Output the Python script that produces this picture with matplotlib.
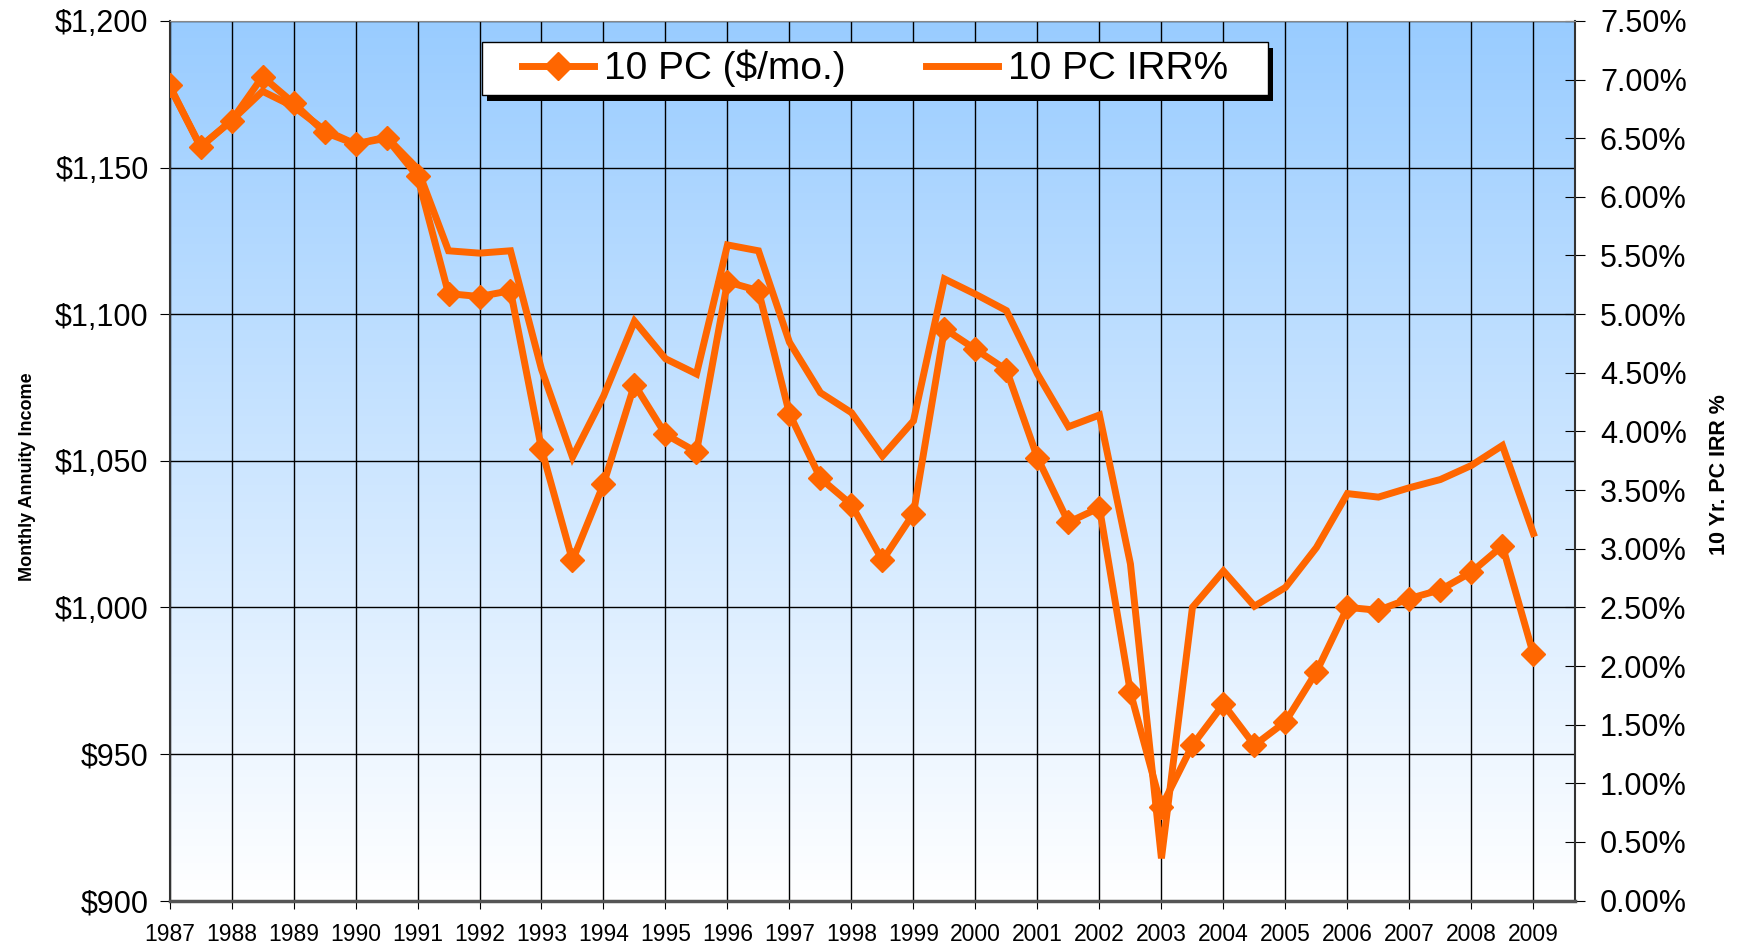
import numpy as np
import matplotlib
matplotlib.use('Agg')
import matplotlib.pyplot as plt
import matplotlib.patheffects as pe
from matplotlib.colors import LinearSegmentedColormap
from matplotlib.patches import Rectangle
from matplotlib.ticker import FuncFormatter

plt.rcParams['font.family'] = ['Liberation Sans', 'DejaVu Sans']

# semiannual observations, 1987.0 .. 2009.0
periods = np.arange(1987.0, 2009.01, 0.5)
monthly_income = [1178, 1157, 1166, 1181, 1172, 1162, 1158, 1160, 1147, 1107,
                  1106, 1108, 1054, 1016, 1042, 1076, 1059, 1053, 1111, 1108,
                  1066, 1044, 1035, 1016, 1032, 1095, 1088, 1081, 1051, 1029,
                  1034, 971, 932, 953, 967, 953, 961, 978, 1000, 999,
                  1003, 1006, 1012, 1021, 984]
irr_pct = [6.94, 6.43, 6.65, 6.90, 6.77, 6.57, 6.45, 6.51, 6.24, 5.54,
           5.52, 5.54, 4.53, 3.78, 4.30, 4.94, 4.62, 4.49, 5.59, 5.54,
           4.76, 4.33, 4.16, 3.79, 4.09, 5.30, 5.17, 5.03, 4.49, 4.04,
           4.14, 2.87, 0.36, 2.50, 2.81, 2.51, 2.67, 3.01, 3.47, 3.44,
           3.52, 3.59, 3.71, 3.88, 3.13]
years = list(range(1987, 2010))
orange = '#FF6600'

fig = plt.figure(figsize=(17.37, 9.5), dpi=100)
ax = fig.add_axes([0.0976, 0.052, 0.8091, 0.926])
ax2 = ax.twinx()

# background gradient, light blue at top to white at bottom
cmap = LinearSegmentedColormap.from_list('bg', ['#FFFFFF', '#99CCFF'])
grad = np.linspace(0, 1, 256).reshape(-1, 1)
ax.imshow(grad, cmap=cmap, origin='lower', aspect='auto',
          extent=[0, 1, 0, 1], transform=ax.transAxes, zorder=0)

ax.set_xlim(1987, 2009.67)
ax.set_ylim(900, 1200)
ax2.set_ylim(0, 7.5)

ax.set_xticks(years)
ax.set_xticklabels([str(y) for y in years], fontsize=16.5)
ax.set_yticks(np.arange(900, 1201, 50))
ax.yaxis.set_major_formatter(FuncFormatter(lambda v, p: f'${v:,.0f}'))
ax2.set_yticks(np.arange(0, 7.51, 0.5))
ax2.yaxis.set_major_formatter(FuncFormatter(lambda v, p: f'{v:.2f}%'))

ax.grid(True, color='black', linewidth=1.0, zorder=1)
ax.set_axisbelow(True)

ax.tick_params(axis='y', labelsize=22, length=7, direction='out', pad=8)
ax.tick_params(axis='x', length=6, direction='out', pad=10)
ax2.tick_params(axis='y', labelsize=22, length=14, direction='inout', pad=11)

for sp in ['left', 'right']:
    ax2.spines[sp].set_color('#333333')
    ax2.spines[sp].set_linewidth(1.5)
ax2.spines['top'].set_color('#888888')
ax2.spines['bottom'].set_color('#555555')
ax2.spines['bottom'].set_linewidth(2.5)
for sp in ax.spines.values():
    sp.set_visible(False)

ax.set_ylabel('Monthly Annuity Income', fontsize=13, fontweight='bold')
ax.yaxis.set_label_coords(-0.0949, 0.4816)
ax2.set_ylabel('10 Yr. PC IRR %', fontsize=15.5, fontweight='bold')
ax2.yaxis.set_label_coords(1.0954, 0.484)

l2, = ax2.plot(periods, irr_pct, color=orange, linewidth=5,
               solid_joinstyle='miter', label='10 PC IRR%', zorder=3)
l1, = ax2.plot(periods, np.interp(monthly_income, [900, 1200], [0, 7.5]),
               color=orange, linewidth=5, marker='D', markersize=12.5,
               label='10 PC ($/mo.)', zorder=4)

# legend box with a solid black drop shadow
box_x, box_y, box_w, box_h = 0.2222, 0.9158, 0.5595, 0.0599
frame = Rectangle((box_x, box_y), box_w, box_h, transform=ax2.transAxes,
                  facecolor='white', edgecolor='black', linewidth=1.0, zorder=6)
frame.set_path_effects([pe.SimplePatchShadow(offset=(3.6, -4.1), shadow_rgbFace='black', alpha=1.0),
                        pe.Normal()])
ax2.add_patch(frame)

leg = ax2.legend(handles=[l1, l2], loc='center',
                 bbox_to_anchor=(box_x + box_w / 2, box_y + box_h / 2),
                 ncol=2, fontsize=28, frameon=False, numpoints=1,
                 handlelength=1.85, handletextpad=0.26, columnspacing=2.05,
                 borderpad=0.1, borderaxespad=0, markerscale=1.15)
leg.set_zorder(10)

fig.savefig('out.png', dpi=100)
